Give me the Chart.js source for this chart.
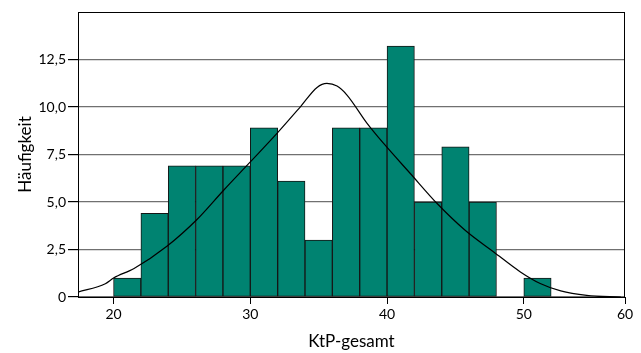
<!DOCTYPE html>
<html>
<head>
<meta charset="utf-8">
<script src="https://cdn.jsdelivr.net/npm/chart.js@4.4.1/dist/chart.umd.min.js"></script>
<style>
  html, body { margin: 0; padding: 0; background: #fff; }
</style>
</head>
<body>
<canvas id="chart" width="641" height="353"></canvas>
<script>
// histogram bins (start of each 2-unit bin) and heights
const binStarts = [20, 22, 24, 26, 28, 30, 32, 34, 36, 38, 40, 42, 44, 46, 48, 50];
const binValues = [1.0, 4.4, 6.9, 6.9, 6.9, 8.9, 6.1, 3.0, 8.9, 8.9, 13.2, 5.0, 7.9, 5.0, null, 1.0];
const binWidth = 2;

// normal curve, points
const curveX = [17.4, 19.4, 20.0, 21.5, 23.9, 26.1, 28.05, 30.0, 31.95, 33.66, 34.88, 35.6, 36.34, 37.07, 38.54, 39.75, 41.7, 43.66, 45.73, 47.8, 49.75, 51.2, 52.7, 54.6, 57.1];
const curveY = [0.26, 0.7, 1.0, 1.5, 2.67, 4.08, 5.62, 7.11, 8.61, 10.01, 11.03, 11.24, 11.1, 10.63, 9.14, 8.08, 6.5, 4.92, 3.5, 2.37, 1.32, 0.71, 0.32, 0.09, 0.0];

// axis ticks
const xTickLabels = ['20', '30', '40', '50', '60'];
const yTickValues = [0, 2.5, 5, 7.5, 10, 12.5];
const yTickLabels = ['0', '2,5', '5,0', '7,5', '10,0', '12,5'];

const bars = binStarts.map(function (s, i) {
  return { x: s + binWidth / 2, y: binValues[i] };
});
const curve = curveX.map(function (x, i) {
  return { x: x, y: curveY[i] };
});

// frame around the plot area (top and right edges)
const frame = {
  id: 'frame',
  afterDraw: function (chart) {
    const a = chart.chartArea;
    const ctx = chart.ctx;
    ctx.save();
    ctx.strokeStyle = '#000';
    ctx.lineWidth = 1;
    ctx.strokeRect(a.left + 0.5, a.top + 0.5, a.right - a.left - 1, a.bottom - a.top);
    ctx.restore();
  }
};

new Chart(document.getElementById('chart'), {
  type: 'bar',
  data: {
    datasets: [
      {
        type: 'line',
        data: curve,
        borderColor: '#000',
        borderWidth: 1.2,
        pointRadius: 0,
        tension: 0.3,
        cubicInterpolationMode: 'monotone',
        order: 0
      },
      {
        type: 'bar',
        data: bars,
        backgroundColor: '#008371',
        borderColor: '#151515',
        borderWidth: 1,
        borderSkipped: false,
        barPercentage: 1,
        categoryPercentage: 1,
        order: 1
      }
    ]
  },
  options: {
    responsive: false,
    animation: false,
    layout: { padding: { left: 0, right: 16, top: 12, bottom: 0 } },
    plugins: {
      legend: { display: false },
      tooltip: { enabled: false }
    },
    scales: {
      x: {
        type: 'linear',
        min: 17.4,
        max: 57.4,
        offset: false,
        grid: { offset: false, drawOnChartArea: false, drawTicks: true, tickLength: 7, color: '#000' },
        border: { color: '#000', width: 1 },
        afterBuildTicks: function (scale) {
          scale.ticks = [{ value: 20 }, { value: 30 }, { value: 40 }, { value: 50 }, { value: scale.max }];
        },
        afterFit: function (scale) { scale.height = 56; },
        ticks: {
          color: '#000',
          padding: 2,
          maxRotation: 0,
          autoSkip: false,
          font: { family: 'Lato', size: 14 },
          callback: function (v, i) { return xTickLabels[i]; }
        },
        title: {
          display: true,
          text: 'KtP-gesamt',
          color: '#000',
          font: { family: 'Lato', size: 17 },
          padding: { top: 0, bottom: 1 }
        }
      },
      y: {
        min: 0,
        max: 15,
        grid: { color: '#707070', tickColor: '#000', tickLength: 10, lineWidth: 1.2 },
        border: { color: '#000', width: 1 },
        afterBuildTicks: function (scale) {
          scale.ticks = yTickValues.map(function (v) { return { value: v }; });
        },
        afterFit: function (scale) { scale.width = 78; },
        ticks: {
          color: '#000',
          padding: 2,
          font: { family: 'Lato', size: 14 },
          callback: function (v, i) { return yTickLabels[i]; }
        },
        title: {
          display: true,
          text: 'Häufigkeit',
          color: '#000',
          font: { family: 'Lato', size: 17 },
          padding: { top: 15, bottom: 0 }
        }
      }
    }
  },
  plugins: [frame]
});
</script>
</body>
</html>
